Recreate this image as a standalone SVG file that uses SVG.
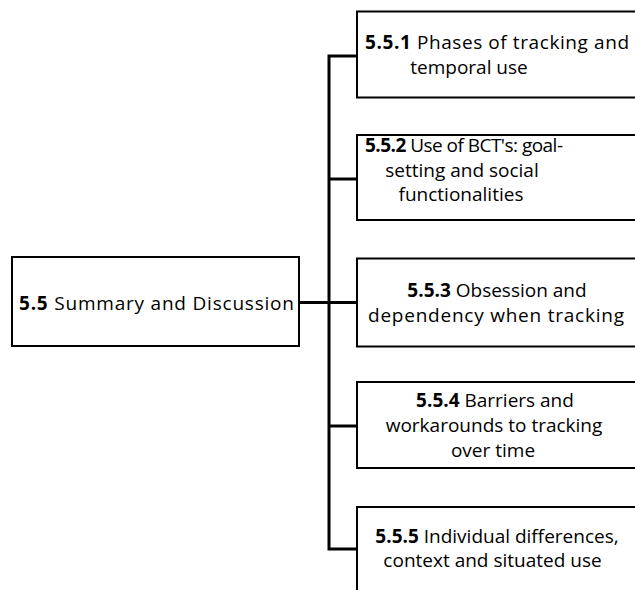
<svg xmlns="http://www.w3.org/2000/svg" width="635" height="590" viewBox="0 0 635 590">
  <style>
    .box { fill: #ffffff; stroke: #000000; stroke-width: 2; }
    .wire { fill: none; stroke: #000000; stroke-width: 3; stroke-linejoin: miter; }
    .lbl { font-family: "Open Sans", "Noto Sans", "Liberation Sans", sans-serif; font-size: 19px; fill: #000000; text-anchor: middle; }
    .num { font-weight: bold; }
  </style>
  <rect width="635" height="590" fill="#ffffff"/>

  <!-- tree connectors: root to trunk, trunk to each child -->
  <g id="connectors">
    <path class="wire" d="M299,302.5 H329"/>
    <path class="wire" d="M357,56 H329 V549 H357"/>
    <path class="wire" d="M329,179 H357"/>
    <path class="wire" d="M329,302.5 H357"/>
    <path class="wire" d="M329,426 H357"/>
  </g>

  <g id="n55">
    <rect class="box" x="12" y="257" width="287" height="89"/>
    <text class="lbl" x="156.5" y="310" textLength="275"><tspan class="num">5.5</tspan> Summary and Discussion</text>
  </g>

  <g id="n551">
    <rect class="box" x="357" y="11.5" width="290" height="86"/>
    <text class="lbl" x="497" y="49" textLength="264"><tspan class="num">5.5.1</tspan> Phases of tracking and</text>
    <text class="lbl" x="469" y="74">temporal use</text>
  </g>

  <g id="n552">
    <rect class="box" x="357" y="135" width="290" height="85"/>
    <text class="lbl" x="464" y="152" textLength="198"><tspan class="num">5.5.2</tspan> Use of BCT's: goal-</text>
    <text class="lbl" x="462" y="177">setting and social</text>
    <text class="lbl" x="461" y="201">functionalities</text>
  </g>

  <g id="n553">
    <rect class="box" x="357" y="258.5" width="290" height="88"/>
    <text class="lbl" x="497" y="297"><tspan class="num">5.5.3</tspan> Obsession and</text>
    <text class="lbl" x="496" y="322" textLength="256">dependency when tracking</text>
  </g>

  <g id="n554">
    <rect class="box" x="357" y="382" width="290" height="86"/>
    <text class="lbl" x="495" y="407"><tspan class="num">5.5.4</tspan> Barriers and</text>
    <text class="lbl" x="494" y="432">workarounds to tracking</text>
    <text class="lbl" x="493" y="457">over time</text>
  </g>

  <g id="n555">
    <rect class="box" x="357" y="507" width="290" height="100"/>
    <text class="lbl" x="497" y="543"><tspan class="num">5.5.5</tspan> Individual differences,</text>
    <text class="lbl" x="492.5" y="567">context and situated use</text>
  </g>
</svg>
